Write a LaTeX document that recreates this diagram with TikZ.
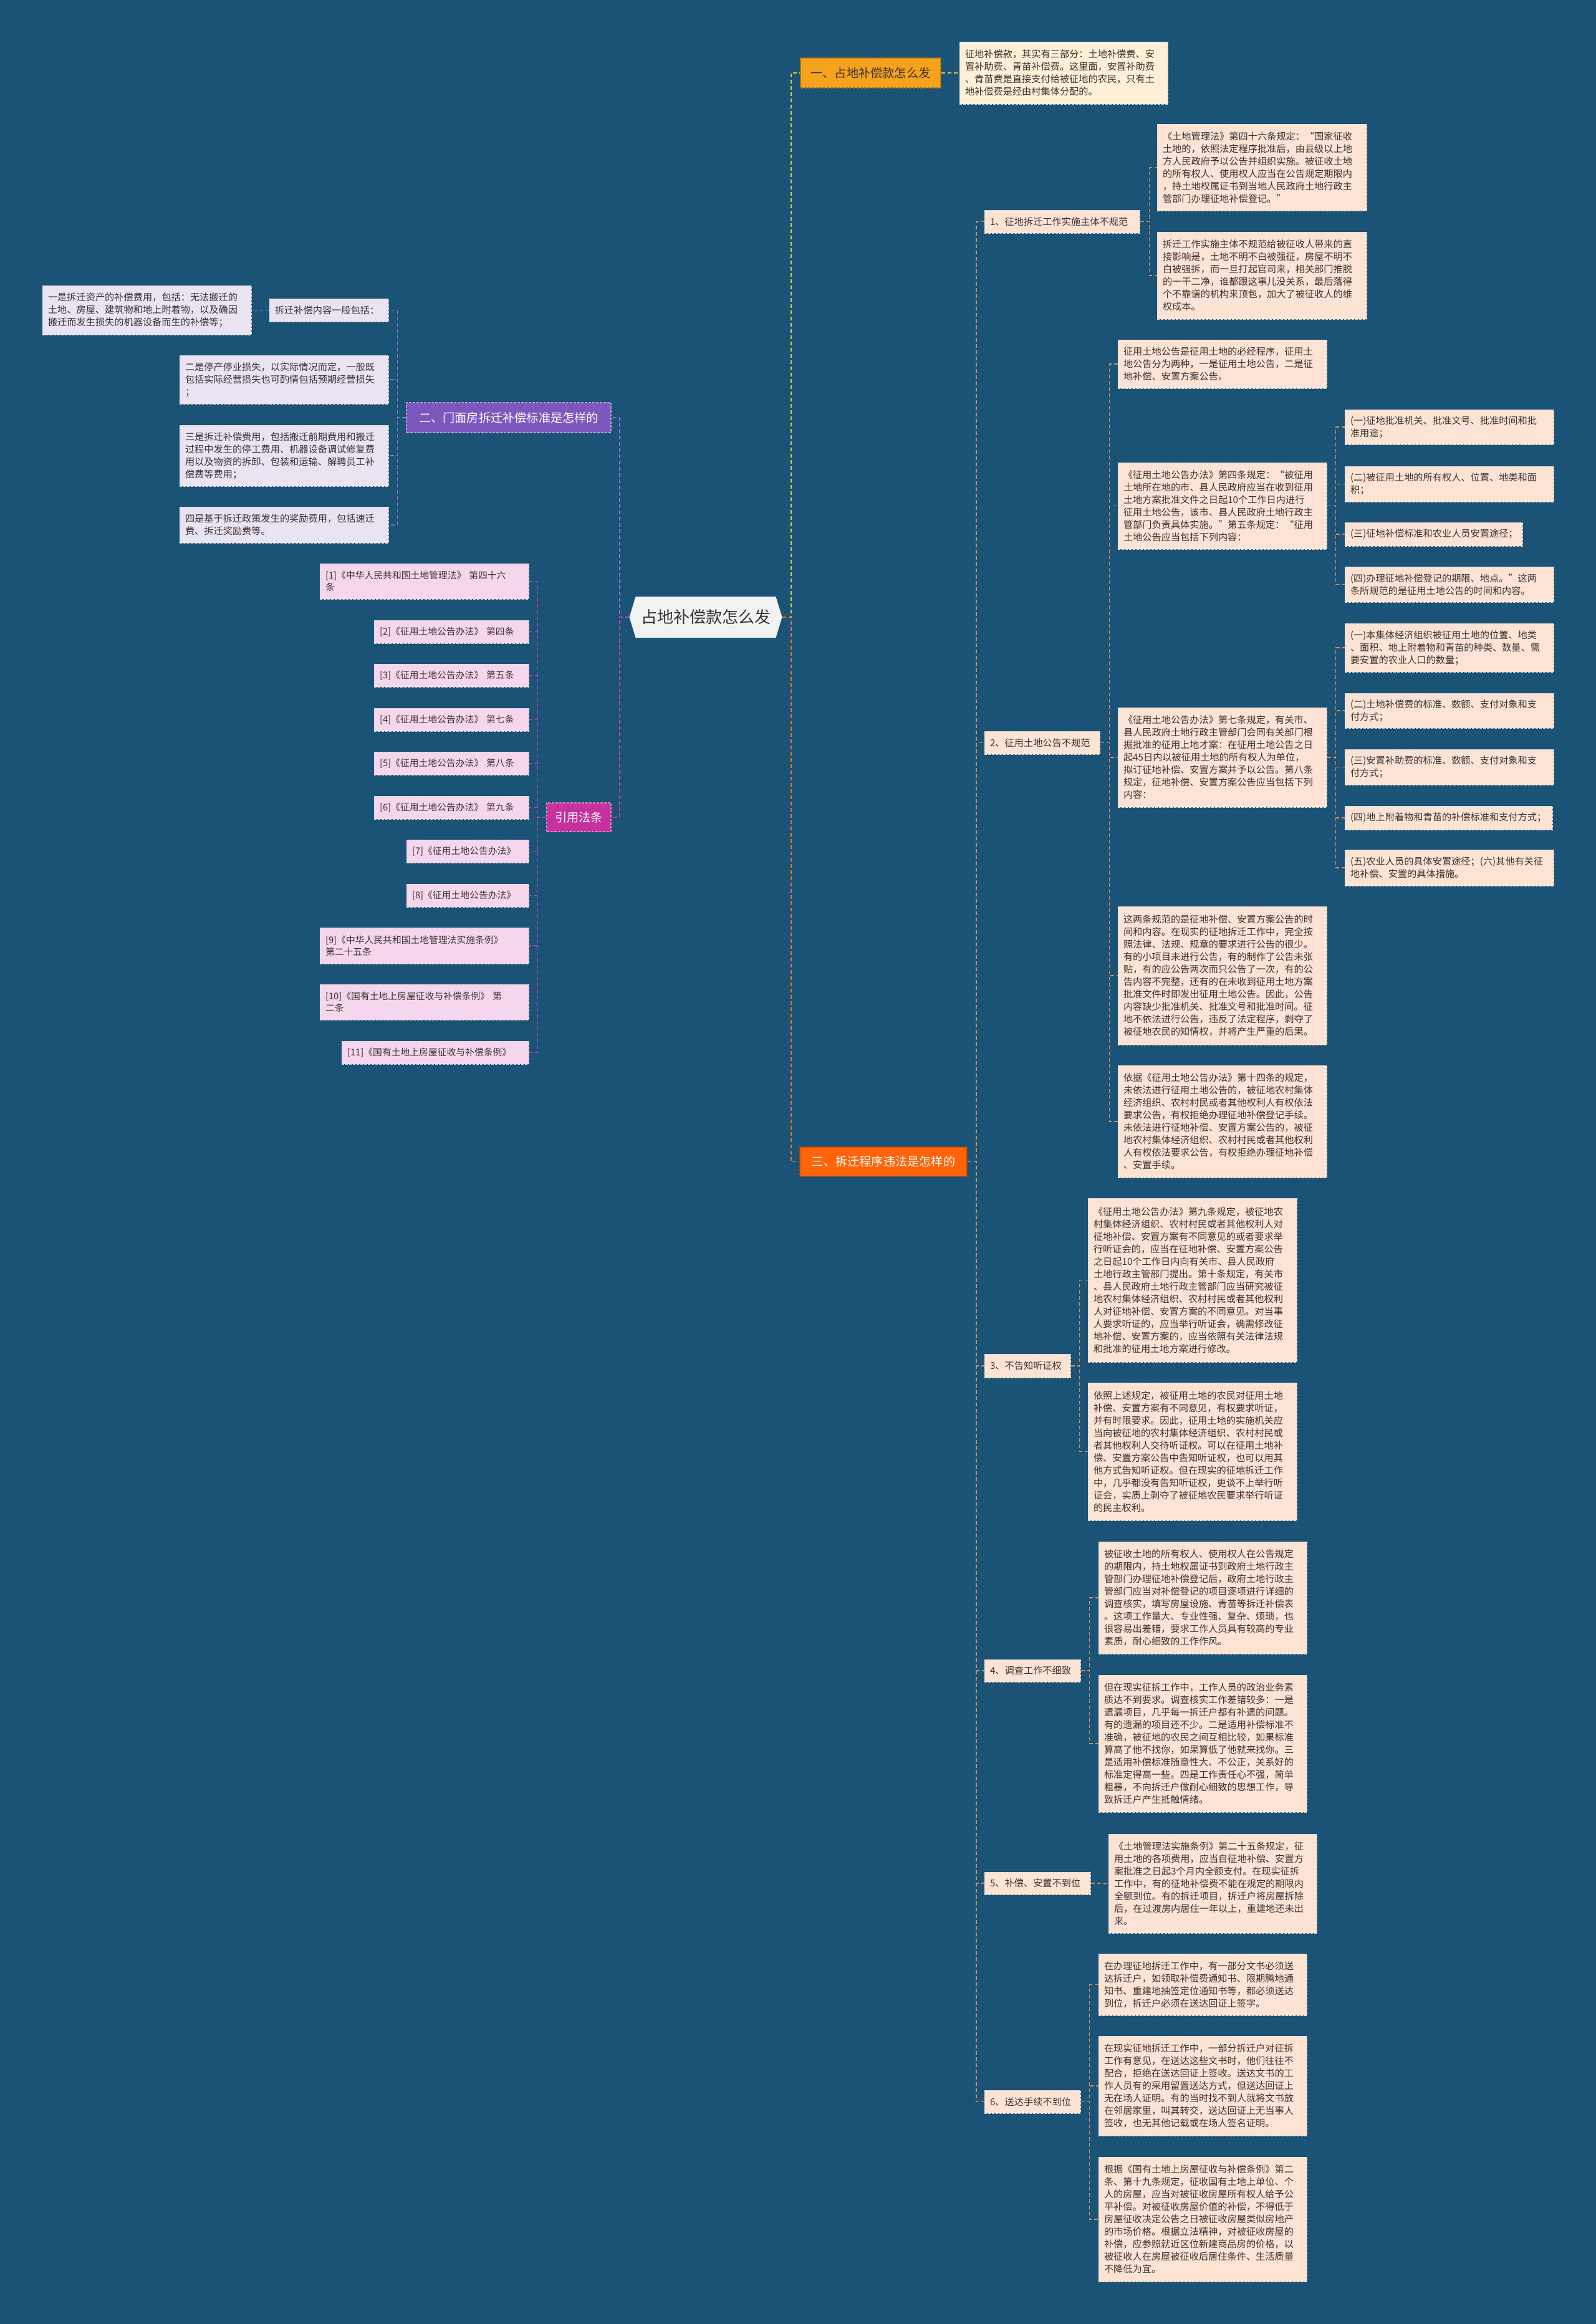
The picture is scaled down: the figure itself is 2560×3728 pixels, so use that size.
\documentclass[tikz,border=0pt]{standalone}
\usepackage{fontspec}
\setmainfont{Noto Sans CJK SC}
\usetikzlibrary{shapes.symbols}
\definecolor{bg}{HTML}{1A5376}
\definecolor{peach}{HTML}{FDE3D3}
\definecolor{cream}{HTML}{FDF0D6}
\definecolor{lav}{HTML}{EAE3F2}
\definecolor{pinkc}{HTML}{F6D6EC}
\definecolor{txt}{HTML}{3A3232}
\definecolor{secA}{HTML}{F5A21C}
\definecolor{secB}{HTML}{7E57BE}
\definecolor{secC}{HTML}{FF6409}
\definecolor{secD}{HTML}{C7309E}
\definecolor{lnY}{HTML}{E6C04E}
\definecolor{lnO}{HTML}{E8732E}
\definecolor{lnB}{HTML}{D98A5C}
\definecolor{lnP}{HTML}{9170D2}
\definecolor{lnM}{HTML}{C83FAA}
\newcommand\mybox[7]{%
 \pgfmathsetmacro\bxw{(#4-#2)*0.5}%
 \pgfmathsetmacro\bxh{(#5-#3)*0.5}%
 \pgfmathsetmacro\bxt{(#4-#2)*0.5-9}%
 \node[#6, minimum width=\bxw pt, minimum height=\bxh pt, text width=\bxt pt] (#1) at ({(#2+#4)/2},{(#3+#5)/2}) {#7};}
\tikzset{
 box/.style={draw=white!70!gray, dash pattern=on 2pt off 1pt, line width=0.5pt, align=left, inner xsep=4.5pt, inner ysep=2pt, text=txt, font=\fontsize{7.6}{10}\selectfont},
 peachbox/.style={box, fill=peach},
 creambox/.style={box, fill=cream},
 lavbox/.style={box, fill=lav},
 pinkbox/.style={box, fill=pinkc, font=\fontsize{7.4}{9.6}\selectfont},
 secbox/.style={align=center, inner xsep=4.5pt, inner ysep=2pt, dash pattern=on 2pt off 1pt, line width=0.6pt, font=\fontsize{9.6}{12}\selectfont},
 conn/.style={dash pattern=on 3pt off 2pt, line width=0.9pt},
 cY/.style={conn, draw=lnY},
 cO/.style={conn, draw=lnO},
 cB/.style={conn, draw=lnB},
 cP/.style={conn, draw=lnP},
 cM/.style={conn, draw=lnM}
}
\begin{document}
\begin{tikzpicture}[x=0.5pt, y=-0.5pt]
\fill[bg] (0,0) rectangle (2560,3728);
\useasboundingbox (0,0) rectangle (2560,3728);

% root
\node[signal, signal to=west and east, signal pointer angle=146, fill=white!95!black, text=txt,
 minimum width=122.5pt, minimum height=33pt, inner sep=2pt, font=\fontsize{13}{15}\selectfont] (root) at (1132,990) {占地补偿款怎么发};

% sections
\mybox{s1}{1284}{93}{1509}{141}{secbox, fill=secA, draw=secA!70!black, text=txt}{一、占地补偿款怎么发}
\mybox{s2}{652}{646}{980}{694}{secbox, fill=secB, draw=secB!60!white, text=white}{二、门面房拆迁补偿标准是怎样的}
\mybox{s3}{1283}{1840}{1551}{1887}{secbox, fill=secC, draw=secC!70!black, text=white}{三、拆迁程序违法是怎样的}
\mybox{s4}{877}{1288}{980}{1334}{secbox, fill=secD, draw=secD!60!white, text=white}{引用法条}

% section 1 child
\mybox{d1}{1539}{67}{1873}{167}{creambox}{征地补偿款，其实有三部分：土地补偿费、安\\置补助费、青苗补偿费。这里面，安置补助费\\、青苗费是直接支付给被征地的农民，只有土\\地补偿费是经由村集体分配的。}

% section 3 items
\mybox{i1}{1579}{337}{1828}{374}{peachbox}{1、征地拆迁工作实施主体不规范}
\mybox{i1a}{1856}{199}{2192}{338}{peachbox}{《土地管理法》第四十六条规定：“国家征收\\土地的，依照法定程序批准后，由县级以上地\\方人民政府予以公告并组织实施。被征收土地\\的所有权人、使用权人应当在公告规定期限内\\，持土地权属证书到当地人民政府土地行政主\\管部门办理征地补偿登记。”}
\mybox{i1b}{1856}{372}{2192}{512}{peachbox}{拆迁工作实施主体不规范给被征收人带来的直\\接影响是，土地不明不白被强征，房屋不明不\\白被强拆，而一旦打起官司来，相关部门推脱\\的一干二净，谁都跟这事儿没关系，最后落得\\个不靠谱的机构来顶包，加大了被征收人的维\\权成本。}

\mybox{i2}{1579}{1173}{1764}{1210}{peachbox}{2、征用土地公告不规范}
\mybox{i2a}{1793}{545}{2128}{623}{peachbox}{征用土地公告是征用土地的必经程序，征用土\\地公告分为两种，一是征用土地公告，二是征\\地补偿、安置方案公告。}
\mybox{i2b}{1793}{742}{2128}{881}{peachbox}{《征用土地公告办法》第四条规定：“被征用\\土地所在地的市、县人民政府应当在收到征用\\土地方案批准文件之日起10个工作日内进行\\征用土地公告，该市、县人民政府土地行政主\\管部门负责具体实施。”第五条规定：“征用\\土地公告应当包括下列内容：}
\mybox{i2b1}{2157}{657}{2492}{713}{peachbox}{(一)征地批准机关、批准文号、批准时间和批\\准用途；}
\mybox{i2b2}{2157}{748}{2492}{805}{peachbox}{(二)被征用土地的所有权人、位置、地类和面\\积；}
\mybox{i2b3}{2157}{838}{2442}{876}{peachbox}{(三)征地补偿标准和农业人员安置途径；}
\mybox{i2b4}{2157}{909}{2492}{966}{peachbox}{(四)办理征地补偿登记的期限、地点。”这两\\条所规范的是征用土地公告的时间和内容。}
\mybox{i2c}{1793}{1135}{2128}{1295}{peachbox}{《征用土地公告办法》第七条规定，有关市、\\县人民政府土地行政主管部门会同有关部门根\\据批准的征用上地才案：在征用土地公告之日\\起45日内以被征用土地的所有权人为单位，\\拟订征地补偿、安置方案并予以公告。第八条\\规定，征地补偿、安置方案公告应当包括下列\\内容：}
\mybox{i2c1}{2157}{1000}{2492}{1078}{peachbox}{(一)本集体经济组织被征用土地的位置、地类\\、面积、地上附着物和青苗的种类、数量、需\\要安置的农业人口的数量；}
\mybox{i2c2}{2157}{1112}{2492}{1168}{peachbox}{(二)土地补偿费的标准、数额、支付对象和支\\付方式；}
\mybox{i2c3}{2157}{1202}{2492}{1259}{peachbox}{(三)安置补助费的标准、数额、支付对象和支\\付方式；}
\mybox{i2c4}{2157}{1293}{2490}{1331}{peachbox}{(四)地上附着物和青苗的补偿标准和支付方式；}
\mybox{i2c5}{2157}{1363}{2492}{1421}{peachbox}{(五)农业人员的具体安置途径；(六)其他有关征\\地补偿、安置的具体措施。}
\mybox{i2d}{1793}{1454}{2128}{1676}{peachbox}{这两条规范的是征地补偿、安置方案公告的时\\间和内容。在现实的征地拆迁工作中，完全按\\照法律、法规、规章的要求进行公告的很少。\\有的小项目未进行公告，有的制作了公告未张\\贴，有的应公告两次而只公告了一次，有的公\\告内容不完整，还有的在未收到征用土地方案\\批准文件时即发出征用土地公告。因此，公告\\内容缺少批准机关、批准文号和批准时间。征\\地不依法进行公告，违反了法定程序，剥夺了\\被征地农民的知情权，并将产生严重的后果。}
\mybox{i2e}{1793}{1709}{2128}{1889}{peachbox}{依据《征用土地公告办法》第十四条的规定，\\未依法进行征用土地公告的，被征地农村集体\\经济组织、农村村民或者其他权利人有权依法\\要求公告，有权拒绝办理征地补偿登记手续。\\未依法进行征地补偿、安置方案公告的，被征\\地农村集体经济组织、农村村民或者其他权利\\人有权依法要求公告，有权拒绝办理征地补偿\\、安置手续。}

\mybox{i3}{1579}{2172}{1717}{2210}{peachbox}{3、不告知听证权}
\mybox{i3a}{1745}{1922}{2080}{2185}{peachbox}{《征用土地公告办法》第九条规定，被征地农\\村集体经济组织、农村村民或者其他权利人对\\征地补偿、安置方案有不同意见的或者要求举\\行听证会的，应当在征地补偿、安置方案公告\\之日起10个工作日内向有关市、县人民政府\\土地行政主管部门提出。第十条规定，有关市\\、县人民政府土地行政主管部门应当研究被征\\地农村集体经济组织、农村村民或者其他权利\\人对征地补偿、安置方案的不同意见。对当事\\人要求听证的，应当举行听证会，确需修改征\\地补偿、安置方案的，应当依照有关法律法规\\和批准的征用土地方案进行修改。}
\mybox{i3b}{1745}{2218}{2080}{2439}{peachbox}{依照上述规定，被征用土地的农民对征用土地\\补偿、安置方案有不同意见，有权要求听证，\\并有时限要求。因此，征用土地的实施机关应\\当向被征地的农村集体经济组织、农村村民或\\者其他权利人交待听证权。可以在征用土地补\\偿、安置方案公告中告知听证权，也可以用其\\他方式告知听证权。但在现实的征地拆迁工作\\中，几乎都没有告知听证权，更谈不上举行听\\证会，实质上剥夺了被征地农民要求举行听证\\的民主权利。}

\mybox{i4}{1579}{2662}{1733}{2698}{peachbox}{4、调查工作不细致}
\mybox{i4a}{1762}{2473}{2096}{2653}{peachbox}{被征收土地的所有权人、使用权人在公告规定\\的期限内，持土地权属证书到政府土地行政主\\管部门办理征地补偿登记后，政府土地行政主\\管部门应当对补偿登记的项目逐项进行详细的\\调查核实，填写房屋设施、青苗等拆迁补偿表\\。这项工作量大、专业性强、复杂、烦琐，也\\很容易出差错，要求工作人员具有较高的专业\\素质，耐心细致的工作作风。}
\mybox{i4b}{1762}{2687}{2096}{2907}{peachbox}{但在现实征拆工作中，工作人员的政治业务素\\质达不到要求。调查核实工作差错较多：一是\\遗漏项目，几乎每一拆迁户都有补遗的问题。\\有的遗漏的项目还不少。二是适用补偿标准不\\准确，被征地的农民之间互相比较，如果标准\\算高了他不找你，如果算低了他就来找你。三\\是适用补偿标准随意性大、不公正，关系好的\\标准定得高一些。四是工作责任心不强，简单\\粗暴，不向拆迁户做耐心细致的思想工作，导\\致拆迁户产生抵触情绪。}

\mybox{i5}{1579}{3003}{1749}{3039}{peachbox}{5、补偿、安置不到位}
\mybox{i5a}{1778}{2942}{2112}{3101}{peachbox}{《土地管理法实施条例》第二十五条规定，征\\用土地的各项费用，应当自征地补偿、安置方\\案批准之日起3个月内全额支付。在现实征拆\\工作中，有的征地补偿费不能在规定的期限内\\全额到位。有的拆迁项目，拆迁户将房屋拆除\\后，在过渡房内居住一年以上，重建地还未出\\来。}

\mybox{i6}{1579}{3353}{1733}{3390}{peachbox}{6、送达手续不到位}
\mybox{i6a}{1762}{3134}{2096}{3233}{peachbox}{在办理征地拆迁工作中，有一部分文书必须送\\达拆迁户，如领取补偿费通知书、限期腾地通\\知书、重建地抽签定位通知书等，都必须送达\\到位，拆迁户必须在送达回证上签字。}
\mybox{i6b}{1762}{3266}{2096}{3426}{peachbox}{在现实征地拆迁工作中，一部分拆迁户对征拆\\工作有意见，在送达这些文书时，他们往往不\\配合，拒绝在送达回证上签收。送达文书的工\\作人员有的采用留置送达方式，但送达回证上\\无在场人证明。有的当时找不到人就将文书放\\在邻居家里，叫其转交，送达回证上无当事人\\签收，也无其他记载或在场人签名证明。}
\mybox{i6c}{1762}{3460}{2096}{3660}{peachbox}{根据《国有土地上房屋征收与补偿条例》第二\\条、第十九条规定，征收国有土地上单位、个\\人的房屋，应当对被征收房屋所有权人给予公\\平补偿。对被征收房屋价值的补偿，不得低于\\房屋征收决定公告之日被征收房屋类似房地产\\的市场价格。根据立法精神，对被征收房屋的\\补偿，应参照就近区位新建商品房的价格，以\\被征收人在房屋被征收后居住条件、生活质量\\不降低为宜。}

% section 2 children
\mybox{e0}{432}{479}{623}{516}{lavbox}{拆迁补偿内容一般包括：}
\mybox{e0a}{68}{458}{403}{537}{lavbox}{一是拆迁资产的补偿费用，包括：无法搬迁的\\土地、房屋、建筑物和地上附着物，以及确因\\搬迁而发生损失的机器设备而生的补偿等；}
\mybox{e1}{288}{570}{623}{648}{lavbox}{二是停产停业损失，以实际情况而定，一般既\\包括实际经营损失也可酌情包括预期经营损失\\；}
\mybox{e2}{288}{682}{623}{780}{lavbox}{三是拆迁补偿费用，包括搬迁前期费用和搬迁\\过程中发生的停工费用、机器设备调试修复费\\用以及物资的拆卸、包装和运输、解聘员工补\\偿费等费用；}
\mybox{e3}{288}{813}{623}{871}{lavbox}{四是基于拆迁政策发生的奖励费用，包括速迁\\费、拆迁奖励费等。}

% references
\mybox{r1}{513}{904}{848}{961}{pinkbox}{[1]《中华人民共和国土地管理法》 第四十六\\条}
\mybox{r2}{600}{995}{848}{1032}{pinkbox}{[2]《征用土地公告办法》 第四条}
\mybox{r3}{600}{1065}{848}{1102}{pinkbox}{[3]《征用土地公告办法》 第五条}
\mybox{r4}{600}{1136}{848}{1173}{pinkbox}{[4]《征用土地公告办法》 第七条}
\mybox{r5}{600}{1206}{848}{1243}{pinkbox}{[5]《征用土地公告办法》 第八条}
\mybox{r6}{600}{1277}{848}{1314}{pinkbox}{[6]《征用土地公告办法》 第九条}
\mybox{r7}{652}{1347}{848}{1384}{pinkbox}{[7]《征用土地公告办法》}
\mybox{r8}{652}{1418}{848}{1455}{pinkbox}{[8]《征用土地公告办法》}
\mybox{r9}{513}{1488}{848}{1546}{pinkbox}{[9]《中华人民共和国土地管理法实施条例》\\第二十五条}
\mybox{r10}{513}{1579}{848}{1636}{pinkbox}{[10]《国有土地上房屋征收与补偿条例》 第\\二条}
\mybox{r11}{548}{1670}{848}{1707}{pinkbox}{[11]《国有土地上房屋征收与补偿条例》}

% connectors: root
\draw[cY] (root.east) -- ++(14,0) |- (s1.west);
\draw[cO] (root.east) -- ++(14,0) |- (s3.west);
\draw[cP] (root.west) -- ++(-15,0) |- (s2.east);
\draw[cM] (root.west) -- ++(-15,0) |- (s4.east);
% section 1
\draw[cY] (s1.east) -- (d1.west);
% section 3
\foreach \n in {i1,i2,i3,i4,i5,i6} \draw[cB] (s3.east) -- ++(14,0) |- (\n.west);
\foreach \n in {i1a,i1b} \draw[cB] (i1.east) -- ++(15,0) |- (\n.west);
\foreach \n in {i2a,i2b,i2c,i2d,i2e} \draw[cB] (i2.east) -- ++(15,0) |- (\n.west);
\foreach \n in {i2b1,i2b2,i2b3,i2b4} \draw[cB] (i2b.east) -- ++(14,0) |- (\n.west);
\foreach \n in {i2c1,i2c2,i2c3,i2c4,i2c5} \draw[cB] (i2c.east) -- ++(14,0) |- (\n.west);
\foreach \n in {i3a,i3b} \draw[cB] (i3.east) -- ++(14,0) |- (\n.west);
\foreach \n in {i4a,i4b} \draw[cB] (i4.east) -- ++(14,0) |- (\n.west);
\draw[cB] (i5.east) -- (i5a.west);
\foreach \n in {i6a,i6b,i6c} \draw[cB] (i6.east) -- ++(14,0) |- (\n.west);
% section 2
\foreach \n in {e0,e1,e2,e3} \draw[cP] (s2.west) -- ++(-14,0) |- (\n.east);
\draw[cP] (e0.west) -- (e0a.east);
% references
\foreach \n in {r1,r2,r3,r4,r5,r6,r7,r8,r9,r10,r11} \draw[cM] (s4.west) -- ++(-14,0) |- (\n.east);
\end{tikzpicture}
\end{document}
